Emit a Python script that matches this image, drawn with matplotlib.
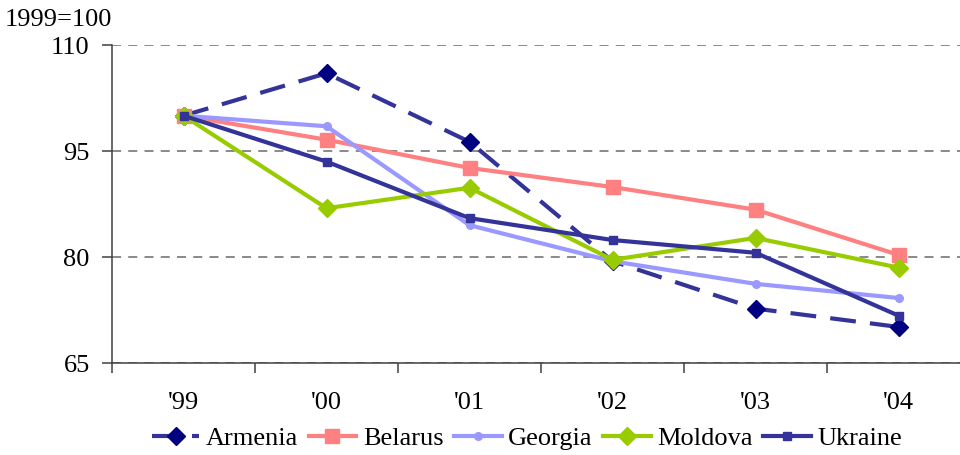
import matplotlib
matplotlib.use("Agg")
import matplotlib.pyplot as plt
from matplotlib.ticker import FixedLocator, NullFormatter

years = ["'99", "'00", "'01", "'02", "'03", "'04"]
armenia = [100.0, 106.0, 96.3, 79.4, 72.7, 70.1]
belarus = [100.0, 96.6, 92.6, 89.9, 86.7, 80.3]
georgia = [100.0, 98.5, 84.5, 79.4, 76.2, 74.2]
moldova = [100.0, 86.9, 89.8, 79.6, 82.7, 78.5]
ukraine = [100.0, 93.5, 85.5, 82.4, 80.6, 71.7]
y_ticks = [65, 80, 95, 110]

plt.rcParams["font.family"] = ["Liberation Serif", "DejaVu Serif"]
FS = 19

fig = plt.figure(figsize=(9.6, 4.55), dpi=100)
ax = fig.add_axes([112 / 960, 1 - 363 / 455, (970 - 112) / 960, (363 - 45) / 455])

x = list(range(len(years)))

LW = 3.0
series = [
    ("Armenia", armenia, dict(color="#333399", lw=LW, ls=(0, (6.2, 3.4)), marker="D", ms=9,
                              mfc="#000080", mec="#000080")),
    ("Belarus", belarus, dict(color="#FF8080", lw=LW, marker="s", ms=9.5,
                              mfc="#FF8080", mec="#FF8080")),
    ("Georgia", georgia, dict(color="#9999FF", lw=LW, marker="o", ms=5.5,
                              mfc="#9999FF", mec="#9999FF")),
    ("Moldova", moldova, dict(color="#99CC00", lw=LW, marker="D", ms=9,
                              mfc="#99CC00", mec="#99CC00")),
    ("Ukraine", ukraine, dict(color="#333399", lw=LW, marker="s", ms=5.8,
                              mfc="#333399", mec="#333399")),
]

handles = []
for name, vals, style in series:
    h, = ax.plot(x, vals, label=name, solid_joinstyle="miter", **style)
    handles.append(h)

ax.set_xlim(-0.5, len(years) - 0.5)
ax.set_ylim(65, 110)
ax.set_yticks(y_ticks)
ax.yaxis.grid(True, color="#808080", ls=(0, (5, 4)), lw=1.3)
ax.set_axisbelow(True)

ax.set_xticks(x)
ax.set_xticklabels(years)
ax.tick_params(axis="x", which="major", length=0, pad=21, labelsize=FS)
ax.xaxis.set_minor_locator(FixedLocator([i - 0.5 for i in range(len(years) + 1)]))
ax.xaxis.set_minor_formatter(NullFormatter())
ax.tick_params(axis="x", which="minor", length=7, width=1.1, color="#404040", direction="out")
ax.tick_params(axis="y", length=7, width=1.1, color="#404040", labelsize=FS, pad=9)

for side in ("top", "right"):
    ax.spines[side].set_visible(False)
for side in ("left", "bottom"):
    ax.spines[side].set_color("#404040")
    ax.spines[side].set_linewidth(1.1)

fig.text(5 / 960, 1 - 20 / 455, "1999=100", fontsize=FS, va="center", ha="left")

fig.legend(handles=handles, loc="center", bbox_to_anchor=(527 / 960, 1 - 438 / 455),
           ncol=5, frameon=False, fontsize=FS, handlelength=1.8, handletextpad=0.25,
           columnspacing=0.4, borderaxespad=0)

fig.savefig("out.png", dpi=100)
